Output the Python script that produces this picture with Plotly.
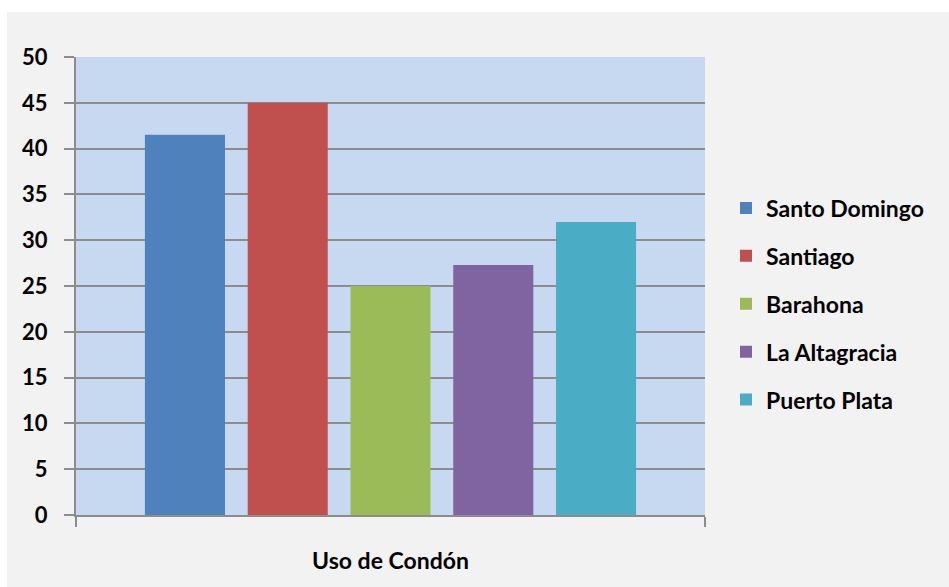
import plotly.graph_objects as go

category = ["Uso de Condón"]
series_names = ["Santo Domingo", "Santiago", "Barahona", "La Altagracia", "Puerto Plata"]
series_values = [41.5, 45, 25, 27.3, 32]
series_colors = ["#4f81bd", "#c0504d", "#9bbb59", "#8064a2", "#4bacc6"]
y_ticks = list(range(0, 51, 5))

W, H = 949, 587
ml, mr, mt, mb = 76, 244, 57, 72
pw = W - ml - mr
ph = H - mt - mb

def px_x(px):
    return (px - ml) / pw

def px_y(py):
    return (H - mb - py) / ph

fig = go.Figure()
for name, val, col in zip(series_names, series_values, series_colors):
    fig.add_trace(go.Bar(
        x=category, y=[val], name=name, marker=dict(color=col, line=dict(width=0)),
        legendgroup=name,
    ))

font_family = "Lato, 'Open Sans', sans-serif"

fig.update_layout(
    width=W, height=H,
    margin=dict(l=ml, r=mr, t=mt, b=mb),
    paper_bgcolor="#f2f2f2",
    plot_bgcolor="#c6d9f1",
    barmode="group",
    bargap=0.183,
    bargroupgap=0.221,
    font=dict(family=font_family, color="#000000"),
    legend=dict(
        x=px_x(726), xanchor="left", y=px_y(304), yanchor="middle",
        font=dict(size=23, family=font_family, weight="bold"),
        bgcolor="rgba(0,0,0,0)", tracegroupgap=15,
    ),
    shapes=[
        dict(type="rect", xref="paper", yref="paper", layer="below",
             x0=px_x(0), x1=px_x(W), y0=px_y(12), y1=px_y(-5),
             fillcolor="#ffffff", line=dict(width=0)),
        dict(type="rect", xref="paper", yref="paper", layer="below",
             x0=px_x(-5), x1=px_x(7), y0=px_y(H + 5), y1=px_y(-5),
             fillcolor="#ffffff", line=dict(width=0)),
    ],
)

fig.update_yaxes(
    range=[0, 50], tickvals=y_ticks, ticktext=[str(v) for v in y_ticks],
    showgrid=True, gridcolor="#8c8c8c", gridwidth=1.5,
    showline=True, linecolor="#8c8c8c", linewidth=2,
    ticks="outside", ticklen=10, tickcolor="#8c8c8c", tickwidth=1.5,
    tickfont=dict(size=22, family=font_family, weight="bold", color="#000000"),
    ticklabelstandoff=12, zeroline=False, fixedrange=True,
)
fig.update_xaxes(
    showline=True, linecolor="#8c8c8c", linewidth=2,
    ticks="outside", ticklen=10, tickcolor="#8c8c8c", tickwidth=2,
    tickson="boundaries",
    tickfont=dict(size=23, family=font_family, weight="bold", color="#000000"),
    ticklabelstandoff=24, showgrid=False,
)

fig.write_html("out.html")
